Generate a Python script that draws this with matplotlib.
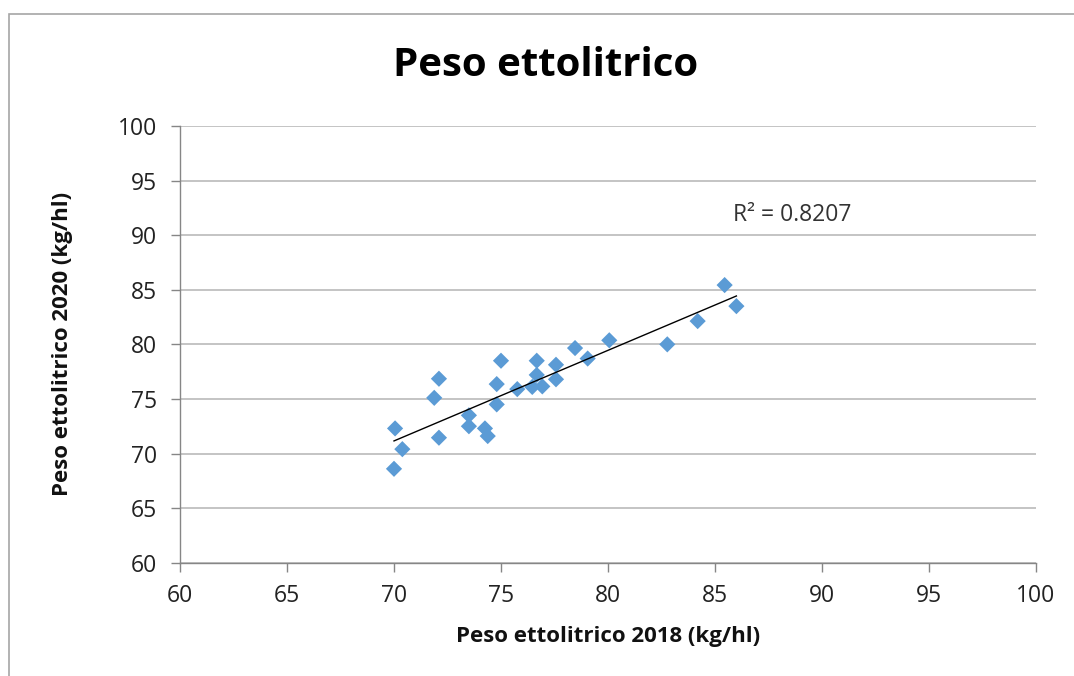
import numpy as np
import matplotlib.pyplot as plt
from matplotlib.patches import Rectangle

# Hectolitre weight (kg/hl) of the same lots in two harvest years
peso_2018 = [70.05, 70.39, 70.0, 72.10, 71.88, 72.10, 73.5, 73.5, 74.25, 74.38,
             74.8, 74.8, 75.0, 75.76, 76.46, 76.67, 76.67, 76.93, 77.57, 77.57,
             78.46, 79.05, 80.06, 82.77, 84.19, 85.45, 86.0]
peso_2020 = [72.3, 70.4, 68.6, 76.85, 75.1, 71.45, 73.5, 72.5, 72.3, 71.6,
             74.5, 76.36, 78.5, 75.9, 76.1, 78.5, 77.2, 76.15, 76.8, 78.13,
             79.66, 78.7, 80.37, 80.0, 82.13, 85.43, 83.5]
ticks = [60, 65, 70, 75, 80, 85, 90, 95, 100]
r2_label = "R² = 0.8207"

plt.rcParams['font.family'] = ['Open Sans', 'DejaVu Sans']

W, H = 1074, 676
fig = plt.figure(figsize=(W / 100, H / 100), dpi=100)
fig.patch.set_facecolor('white')

# outer chart frame
fig.add_artist(Rectangle((9 / W, -0.05), 1.2, 1 - 14 / H + 0.05,
                         transform=fig.transFigure, fill=False,
                         edgecolor='#A6A6A6', linewidth=1.2))

ax = fig.add_axes([180 / W, 1 - 562.7 / H, (1036 - 180) / W, (562.7 - 126) / H])

x = np.array(peso_2018)
y = np.array(peso_2020)

ax.scatter(x, y, marker='D', s=68, color='#5B9BD5', edgecolors='none', zorder=3)

# linear trend over the data range
m, q = np.polyfit(x, y, 1)
xs = np.array([x.min(), x.max()])
ax.plot(xs, m * xs + q, color='black', linewidth=1.0, zorder=4)

ax.set_xlim(60, 100)
ax.set_ylim(60, 100)
ax.set_xticks(ticks)
ax.set_yticks(ticks)
ax.tick_params(axis='both', labelsize=16.5, colors='#868686', labelcolor='#222222',
               length=6.5, width=1.0)
ax.tick_params(axis='x', pad=9)
ax.tick_params(axis='y', pad=10)

ax.grid(axis='y', color='#BFBFBF', linewidth=1.3)
ax.set_axisbelow(True)
for side in ('top', 'right'):
    ax.spines[side].set_visible(False)
for side in ('left', 'bottom'):
    ax.spines[side].set_color('#868686')
    ax.spines[side].set_linewidth(1.0)

ax.set_xlabel('Peso ettolitrico 2018 (kg/hl)', fontsize=16, fontweight='bold',
              color='#111111', labelpad=13)
ax.set_ylabel('Peso ettolitrico 2020 (kg/hl)', fontsize=16, fontweight='bold',
              color='#111111', labelpad=32)

ax.text(85.85, 91.84, r2_label, fontsize=16.5, color='#333333', va='center', ha='left')

fig.text(546 / W, 1 - 66 / H, 'Peso ettolitrico', fontsize=29, fontweight='bold',
         ha='center', va='center', color='black')

fig.savefig('out.png', dpi=100, facecolor='white')
